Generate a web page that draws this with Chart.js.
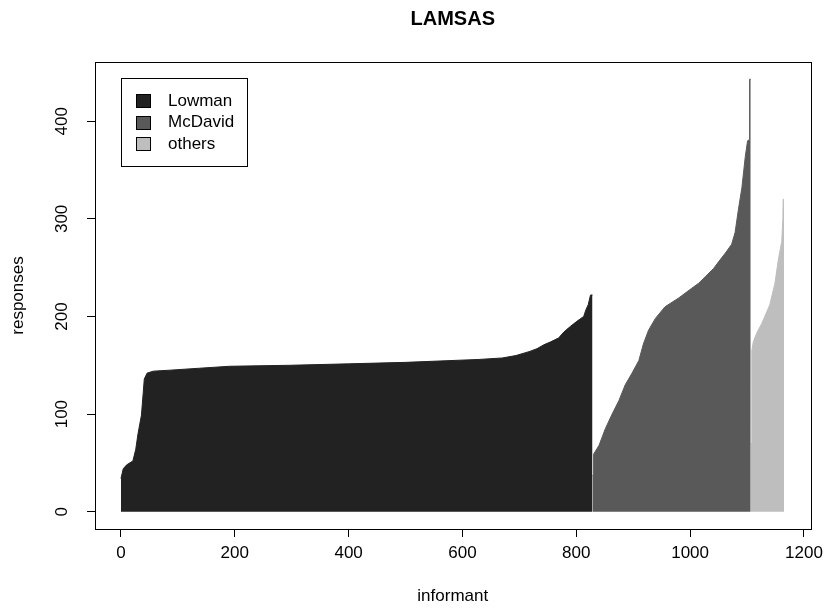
<!DOCTYPE html>
<html>
<head>
<meta charset="utf-8">
<title>LAMSAS</title>
<script src="https://cdn.jsdelivr.net/npm/chart.js@4.4.1/dist/chart.umd.min.js"></script>
<style>
  html, body { margin: 0; padding: 0; background: #fff; }
  #wrap { width: 829px; height: 608px; }
</style>
</head>
<body>
<div id="wrap"><canvas id="lamsas" width="829" height="608"></canvas></div>
<script>
// sorted responses per informant (vertices of each group's outline)
let lowmanInformant = [0, 4, 10, 21, 26, 30, 36, 39, 41, 46, 57, 86, 138, 191, 296, 400, 500, 629, 670, 694, 717, 731, 743, 755, 769, 778, 790, 801, 813, 817, 821, 825, 828.5]
let lowmanResponses = [34, 44, 48, 52, 64, 80, 99, 121, 136, 142, 144, 145, 147, 149, 150, 151.5, 153, 156, 157.5, 160, 164, 167, 171, 174, 178, 184, 190, 195, 200, 207, 212, 222, 222]

let mcdavidInformant = [828.5, 830.5, 830.5, 840, 851, 863, 875, 886, 898, 910, 918, 927, 939, 956, 980, 1003, 1015, 1027, 1041, 1050, 1062, 1073, 1079, 1085, 1091, 1097, 1101, 1104, 1104.5, 1106.5]
let mcdavidResponses = [37, 37, 59, 68, 85, 100, 114, 130, 142, 155, 172, 186, 198, 210, 219, 229, 234, 241, 249, 256, 265, 274, 286, 310, 332, 364, 380, 381, 443, 443]

let othersInformant = [1106.5, 1108.5, 1108.5, 1111, 1117, 1126, 1140, 1149, 1155, 1161, 1163, 1163.5, 1165]
let othersResponses = [70, 70, 165, 174, 183, 193, 212, 234, 258, 277, 300, 320, 320]

let groupNames = ['Lowman', 'McDavid', 'others']
let groupColors = ['#222222', '#595959', '#bebebe']

let xTicks = [0, 200, 400, 600, 800, 1000, 1200]
let yTicks = [0, 100, 200, 300, 400]

let fontFamily = '"Liberation Sans", Arial, Helvetica, sans-serif'

// zip two arrays into {x, y} points for the line chart
function toPoints(xs, ys) {
    return xs.map(function(x, i) { return { x: x, y: ys[i] } })
}

function groupDataset(i, xs, ys) {
    return {
        label: groupNames[i],
        data: toPoints(xs, ys),
        backgroundColor: groupColors[i],
        borderColor: groupColors[i],
        borderWidth: 1,
        fill: 'origin',
        pointRadius: 0,
        tension: 0
    }
}

// R style extras: box round the plot, rotated y labels, legend inside, title
let rPlotExtras = {
    id: 'rPlotExtras',
    afterDraw: function(chart) {
        let ctx = chart.ctx
        let area = chart.chartArea
        let yScale = chart.scales.y

        ctx.save()
        ctx.strokeStyle = '#000'
        ctx.lineWidth = 1
        ctx.strokeRect(Math.round(area.left) + 0.5, Math.round(area.top) + 0.5,
            Math.round(area.right - area.left), Math.round(area.bottom - area.top))

        // y tick labels run parallel to the axis
        ctx.fillStyle = '#000'
        ctx.font = '17px ' + fontFamily
        ctx.textAlign = 'center'
        ctx.textBaseline = 'middle'
        yTicks.forEach(function(v) {
            ctx.save()
            ctx.translate(62, yScale.getPixelForValue(v))
            ctx.rotate(-Math.PI / 2)
            ctx.fillText(String(v), 0, 0)
            ctx.restore()
        })

        // title over the plot region
        ctx.font = 'bold 20px ' + fontFamily
        ctx.fillText('LAMSAS', (area.left + area.right) / 2, 19)

        // legend box, top left inside the plot
        let lx = 121, ly = 78, lw = 126, lh = 88
        ctx.fillStyle = '#fff'
        ctx.fillRect(lx, ly, lw, lh)
        ctx.strokeRect(lx + 0.5, ly + 0.5, lw, lh)
        ctx.font = '17px ' + fontFamily
        ctx.textAlign = 'left'
        chart.data.datasets.forEach(function(ds, i) {
            let cy = 100 + i * 21.7
            ctx.fillStyle = ds.backgroundColor
            ctx.fillRect(136, Math.round(cy - 6), 14, 13)
            ctx.strokeRect(136.5, Math.round(cy - 6) + 0.5, 14, 13)
            ctx.fillStyle = '#000'
            ctx.fillText(ds.label, 168, cy + 1)
        })
        ctx.restore()
    }
}

let ctx = document.querySelector('#lamsas').getContext('2d')

let lamsasChart = new Chart(ctx, {
    type: 'line',
    data: {
        datasets: [
            groupDataset(0, lowmanInformant, lowmanResponses),
            groupDataset(1, mcdavidInformant, mcdavidResponses),
            groupDataset(2, othersInformant, othersResponses)
        ]
    },
    options: {
        responsive: false,
        animation: false,
        devicePixelRatio: 1,
        layout: { padding: { top: 62, right: 17, left: 0, bottom: 0 } },
        plugins: {
            legend: { display: false },
            title: { display: false },
            tooltip: { enabled: false }
        },
        scales: {
            x: {
                type: 'linear',
                min: -45.6,
                max: 1211.6,
                afterBuildTicks: function(scale) {
                    scale.ticks = xTicks.map(function(v) { return { value: v } })
                },
                afterFit: function(scale) { scale.height = 79 },
                grid: { drawOnChartArea: false, drawTicks: true, tickLength: 8, tickColor: '#000', tickWidth: 1 },
                border: { display: false },
                ticks: {
                    color: '#000',
                    padding: 6,
                    maxRotation: 0,
                    font: { family: fontFamily, size: 17 },
                    callback: function(value) { return String(value) }
                },
                title: {
                    display: true,
                    text: 'informant',
                    color: '#000',
                    padding: { top: 0, bottom: 1 },
                    font: { family: fontFamily, size: 17 }
                }
            },
            y: {
                type: 'linear',
                min: -17.7,
                max: 460.7,
                afterBuildTicks: function(scale) {
                    scale.ticks = yTicks.map(function(v) { return { value: v } })
                },
                afterFit: function(scale) { scale.width = 95 },
                grid: { drawOnChartArea: false, drawTicks: true, tickLength: 8, tickColor: '#000', tickWidth: 1 },
                border: { display: false },
                ticks: { display: false },
                title: {
                    display: true,
                    text: 'responses',
                    color: '#000',
                    padding: { top: 8, bottom: 0 },
                    font: { family: fontFamily, size: 17 }
                }
            }
        }
    },
    plugins: [rPlotExtras]
})
</script>
</body>
</html>
